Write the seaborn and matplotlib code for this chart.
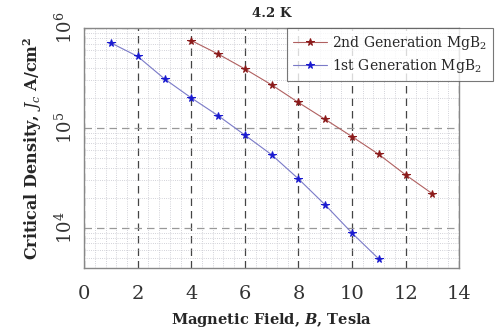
import numpy as np
import pandas as pd
import matplotlib
matplotlib.use("Agg")
import matplotlib.pyplot as plt
from matplotlib.ticker import MultipleLocator, LogLocator, NullFormatter
import seaborn as sns

# data
field_2nd = [4, 5, 6, 7, 8, 9, 10, 11, 12, 13]
jc_2nd = [7.5e5, 5.5e5, 3.9e5, 2.7e5, 1.8e5, 1.22e5, 8.2e4, 5.45e4, 3.4e4, 2.2e4]
field_1st = [1, 2, 3, 4, 5, 6, 7, 8, 9, 10, 11]
jc_1st = [7.1e5, 5.2e5, 3.1e5, 2.0e5, 1.33e5, 8.5e4, 5.4e4, 3.1e4, 1.7e4, 8.9e3, 4.9e3]
x_ticks = [0, 2, 4, 6, 8, 10, 12, 14]

sns.set_style("white")
plt.rcParams['font.family'] = ['DejaVu Serif']
plt.rcParams['mathtext.fontset'] = 'dejavuserif'

df2 = pd.DataFrame({'B': field_2nd, 'Jc': jc_2nd})
df1 = pd.DataFrame({'B': field_1st, 'Jc': jc_1st})

fig = plt.figure(figsize=(4.98, 3.30), dpi=100)
ax = fig.add_axes([0.169, 0.188, 0.753, 0.727])

sns.lineplot(data=df2, x='B', y='Jc', ax=ax, color='#b06060', lw=0.8,
             marker='*', markersize=5.5, markerfacecolor='#8b1a1a',
             markeredgecolor='#8b1a1a', label='2nd Generation MgB$_2$')
sns.lineplot(data=df1, x='B', y='Jc', ax=ax, color='#7a7ac8', lw=0.8,
             marker='*', markersize=5.5, markerfacecolor='#1a1ad0',
             markeredgecolor='#1a1ad0', label='1st Generation MgB$_2$')

ax.set_yscale('log')
ax.set_xlim(0, 14)
ax.set_ylim(10**3.6, 1e6)
ax.set_xticks(x_ticks)
ax.xaxis.set_minor_locator(MultipleLocator(0.4))
ax.yaxis.set_major_locator(LogLocator(base=10, numticks=10))
ax.yaxis.set_minor_locator(LogLocator(base=10, subs=np.arange(2, 10), numticks=20))
ax.yaxis.set_minor_formatter(NullFormatter())

ax.grid(which='major', axis='x', color='#444444', ls=(0, (6, 4)), lw=0.9)
ax.grid(which='major', axis='y', color='#999999', ls=(0, (6, 4)), lw=0.9)
ax.grid(which='minor', color='#c4c4cc', ls=':', lw=0.6)
ax.set_axisbelow(True)

for s in ax.spines.values():
    s.set_color('#888888')
    s.set_linewidth(1.0)

ax.tick_params(axis='x', labelsize=14, length=0, pad=12, colors='#333333')
ax.tick_params(axis='y', labelsize=13, length=0, pad=6, colors='#333333')
for lab in ax.get_yticklabels():
    lab.set_rotation(90)
    lab.set_va('center')

ax.set_xlabel('Magnetic Field, $\\boldsymbol{B}$, Tesla', fontsize=10.5, fontweight='bold', labelpad=6)
ax.set_ylabel('Critical Density, $\\boldsymbol{J_c}$ A/cm$^\\mathbf{2}$', fontsize=11.5,
              fontweight='bold', labelpad=8)
ax.set_title('4.2 K', fontsize=9.5, fontweight='bold', pad=8)

leg = ax.legend(loc='upper left', bbox_to_anchor=(0.541, 1.0), borderaxespad=0,
                fontsize=10, frameon=True, fancybox=False, edgecolor='#555555',
                borderpad=0.45, handlelength=2.4, handletextpad=0.4, labelspacing=0.35)
leg.get_frame().set_linewidth(0.8)

fig.savefig('out.png', dpi=100)
